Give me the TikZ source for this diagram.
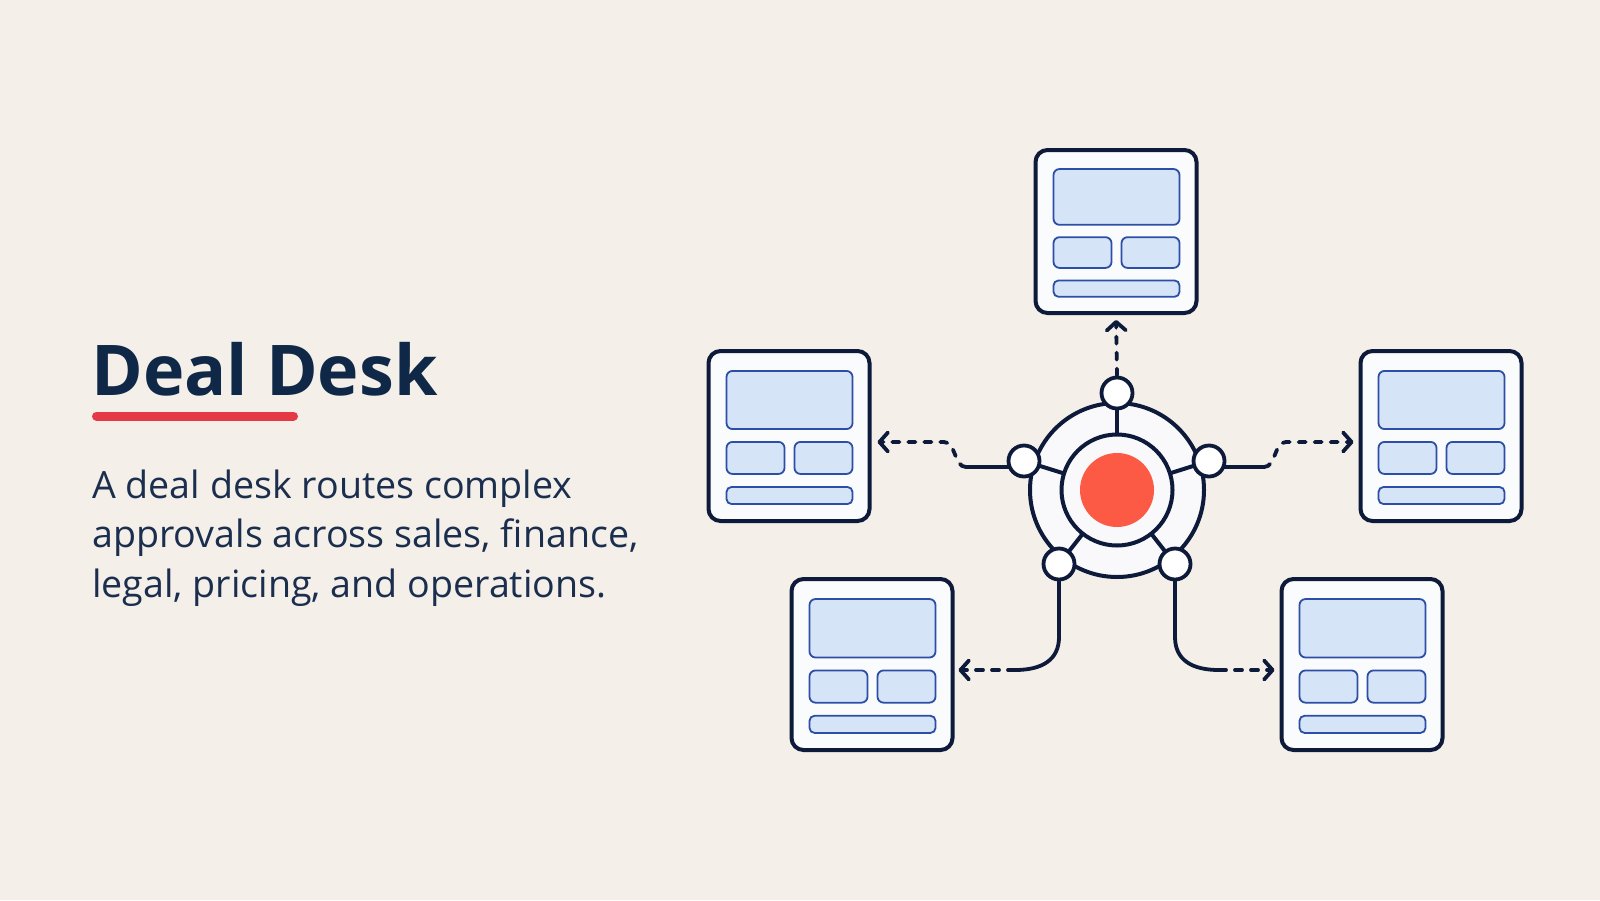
\documentclass[tikz,border=0pt]{standalone}
\usepackage{fontspec}
\setmainfont{Open Sans}
\usetikzlibrary{calc,arrows.meta}
\definecolor{bgc}{HTML}{F4F0E9}
\definecolor{navy}{HTML}{0E1A3A}
\definecolor{titlec}{HTML}{0F2847}
\definecolor{bodyc}{HTML}{1B2E4E}
\definecolor{redline}{HTML}{E63946}
\definecolor{dotc}{HTML}{FC5A45}
\definecolor{cardfill}{HTML}{FAFBFD}
\definecolor{boxfill}{HTML}{D5E5F7}
\definecolor{boxline}{HTML}{2D4EA6}
\definecolor{hubfill}{HTML}{F9F9FB}
\pgfdeclarelayer{back}
\pgfdeclarelayer{conn}
\pgfsetlayers{back,conn,main}

\newcommand\dcard[4]{%
  \node[cardbox, minimum height={#4-4}] (#1) at (#2,#3) {};
  \pgfmathsetmacro\ya{0.126*#4}\pgfmathsetmacro\yb{0.46*#4}%
  \pgfmathsetmacro\yc{0.534*#4}\pgfmathsetmacro\yd{0.718*#4}%
  \pgfmathsetmacro\ye{0.793*#4}\pgfmathsetmacro\yf{0.891*#4}%
  \draw[innerbox] ($(#1.north west)+(20,\ya)$) rectangle ($(#1.north west)+(146,\yb)$);
  \draw[innerbox] ($(#1.north west)+(20,\yc)$) rectangle ($(#1.north west)+(78,\yd)$);
  \draw[innerbox] ($(#1.north west)+(88,\yc)$) rectangle ($(#1.north west)+(146,\yd)$);
  \draw[innerbox, rounded corners=5pt] ($(#1.north west)+(20,\ye)$) rectangle ($(#1.north west)+(146,\yf)$);
}

\begin{document}
\begin{tikzpicture}[x=1pt,y=-1pt,
  cardbox/.style={draw=navy, line width=4pt, fill=cardfill, rounded corners=12pt,
    minimum width=161pt, inner sep=0pt},
  innerbox/.style={draw=boxline, line width=1.8pt, fill=boxfill, rounded corners=6pt},
  cline/.style={draw=navy, line width=3.8pt, line cap=round},
  dline/.style={cline, dash pattern=on 7pt off 9pt},
  tip/.style={-{Straight Barb[round,length=8.5pt,width=19pt]}},
  sat/.style={circle, draw=navy, line width=3.8pt, fill=white, minimum size=31pt, inner sep=0pt},
  body/.style={anchor=base west, inner sep=0pt, text=bodyc, font=\fontsize{37.6}{44}\selectfont},
]
\begin{pgfonlayer}{back}
\fill[bgc] (0,0) rectangle (1600,900);
\end{pgfonlayer}
\useasboundingbox (0,0) rectangle (1600,900);

% title and text
\node[anchor=base west, inner sep=0pt, text=titlec, font=\fontsize{70}{80}\selectfont\bfseries] (title) at (91,395) {Deal Desk};
\draw[redline, line width=9pt, line cap=round] ($(title.base west)+(5.5,21)$) -- ++(197,0);
\node[body] (b1) at (92,498) {A deal desk routes complex};
\node[body] (b2) at (92,547.5) {approvals across sales, finance,};
\node[body] (b3) at (92,597) {legal, pricing, and operations.};

% cards
\dcard{top}{1116}{231.5}{167}
\dcard{left}{789}{436}{174}
\dcard{right}{1441}{436}{174}
\dcard{bl}{872}{664.5}{175}
\dcard{br}{1362}{664.5}{175}

% hub
\coordinate (hub) at (1117,490);
\coordinate (p1) at (1117,393);
\coordinate (p2) at (1024,461);
\coordinate (p3) at (1209,461);
\coordinate (p4) at (1059,564);
\coordinate (p5) at (1175,564);
\node[circle, draw=navy, line width=4pt, fill=hubfill, minimum size=174pt, inner sep=0pt] (ring) at (hub) {};
\foreach \p in {p1,p2,p3,p4,p5} \draw[navy, line width=4pt] (hub) -- (\p);
\node[circle, draw=navy, line width=4pt, fill=hubfill, minimum size=111pt, inner sep=0pt] (core) at (hub) {};
\node[circle, fill=dotc, minimum size=74pt, inner sep=0pt] (dot) at (hub) {};
\node[sat] (s1) at (p1) {};
\node[sat] (s2) at (p2) {};
\node[sat] (s3) at (p3) {};
\node[sat] (s4) at (p4) {};
\node[sat] (s5) at (p5) {};

% connectors
\begin{pgfonlayer}{conn}
\draw[dline, tip, shorten >=5pt] (s1.north) -- (top.south);

\coordinate (la) at (966,467);
\coordinate (lb) at (944,442);
\draw[cline] (s2.center |- la) -- (la);
\draw[dline, tip, shorten >=6pt] (la) .. controls (954,467) and (956,442) .. (lb) -- (lb -| left.east);

\coordinate (ra) at (1264,467);
\coordinate (rb) at (1286,442);
\draw[cline] (s3.center |- ra) -- (ra);
\draw[dline, tip, shorten >=5pt] (ra) .. controls (1276,467) and (1274,442) .. (rb) -- (rb -| right.west);

\coordinate (bla) at (1059,637);
\coordinate (blb) at (1015,670);
\draw[cline] (s4.center) -- (s4.center |- bla) .. controls (1059,660) and (1042,670) .. (blb);
\draw[dline, tip, shorten >=4pt] (blb) -- (blb -| bl.east);

\coordinate (bra) at (1175,637);
\coordinate (brb) at (1219,670);
\draw[cline] (s5.center) -- (s5.center |- bra) .. controls (1175,660) and (1192,670) .. (brb);
\draw[dline, tip, shorten >=5pt] (brb) -- (brb -| br.west);
\end{pgfonlayer}
\end{tikzpicture}
\end{document}
